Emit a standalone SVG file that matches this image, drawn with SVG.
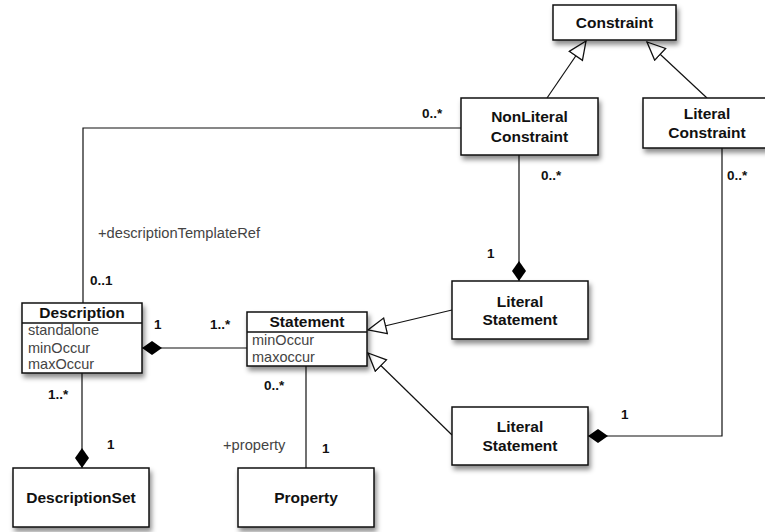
<svg xmlns="http://www.w3.org/2000/svg" width="765" height="532" viewBox="0 0 765 532">
<style>
.box{fill:#fff;stroke:#111;stroke-width:1.5;filter:url(#sh)}
.nm{font-family:"Liberation Sans",Arial,sans-serif;font-weight:bold;font-size:15.5px;fill:#111;text-anchor:middle}
.at{font-family:"Liberation Sans",Arial,sans-serif;font-size:14.5px;fill:#444}
.ml{font-family:"Liberation Sans",Arial,sans-serif;font-weight:bold;font-size:13.5px;fill:#111}
.rl{font-family:"Liberation Sans",Arial,sans-serif;font-size:14.7px;fill:#444}
.ln{fill:none;stroke:#111;stroke-width:1.2}
.sep{stroke:#111;stroke-width:1.3}
</style>
<defs>
<filter id="sh" x="-20%" y="-20%" width="150%" height="160%">
<feDropShadow dx="2" dy="4" stdDeviation="2.5" flood-color="#000" flood-opacity="0.45"/>
</filter>
<marker id="gen" markerUnits="userSpaceOnUse" markerWidth="22" markerHeight="20" refX="19" refY="9" orient="auto">
<path d="M1,1 L19,9 L1,17 Z" fill="#fff" stroke="#111" stroke-width="1.3"/>
</marker>
<marker id="dia" markerUnits="userSpaceOnUse" markerWidth="24" markerHeight="16" refX="21" refY="8" orient="auto">
<path d="M1,8 L11,1 L21,8 L11,15 Z" fill="#000"/>
</marker>
</defs>
<g id="connectors">
<path class="ln" d="M547,98 L586,41" marker-end="url(#gen)"/>
<path class="ln" d="M707,98 L647,42" marker-end="url(#gen)"/>
<path class="ln" d="M452,310 L368,330" marker-end="url(#gen)"/>
<path class="ln" d="M452,435 L368,353" marker-end="url(#gen)"/>
<path class="ln" d="M519,155 L519,281" marker-end="url(#dia)"/>
<path class="ln" d="M722,148 L722,436 L588,436" marker-end="url(#dia)"/>
<path class="ln" d="M83,303 L83,128 L461,128"/>
<path class="ln" d="M247,348 L142,348" marker-end="url(#dia)"/>
<path class="ln" d="M82,373 L82,468" marker-end="url(#dia)"/>
<path class="ln" d="M306,366 L306,468"/>
<text class="ml" x="422" y="118">0..*</text>
<text class="ml" x="541" y="180">0..*</text>
<text class="ml" x="727" y="180">0..*</text>
<text class="ml" x="487" y="258">1</text>
<text class="ml" x="621" y="419">1</text>
<text class="ml" x="90" y="285">0..1</text>
<text class="rl" x="98" y="238">+descriptionTemplateRef</text>
<text class="ml" x="154" y="329">1</text>
<text class="ml" x="210" y="329">1..*</text>
<text class="ml" x="48" y="399">1..*</text>
<text class="ml" x="107" y="449">1</text>
<text class="ml" x="264" y="390">0..*</text>
<text class="rl" x="223" y="450">+property</text>
<text class="ml" x="322" y="453">1</text>
</g>
<g id="constraint">
<rect class="box" x="553" y="5" width="123" height="35"/>
<text class="nm" x="614.5" y="28">Constraint</text>
</g>
<g id="nonliteral-constraint">
<rect class="box" x="461" y="98" width="137" height="57"/>
<text class="nm" x="529.5" y="122">NonLiteral</text>
<text class="nm" x="529.5" y="142">Constraint</text>
</g>
<g id="literal-constraint">
<rect class="box" x="643" y="98" width="128" height="50"/>
<text class="nm" x="707" y="119">Literal</text>
<text class="nm" x="707" y="138">Constraint</text>
</g>
<g id="literal-statement-1">
<rect class="box" x="452" y="281" width="136" height="58"/>
<text class="nm" x="520" y="307">Literal</text>
<text class="nm" x="520" y="325">Statement</text>
</g>
<g id="literal-statement-2">
<rect class="box" x="452" y="407" width="136" height="58"/>
<text class="nm" x="520" y="432">Literal</text>
<text class="nm" x="520" y="451">Statement</text>
</g>
<g id="description">
<rect class="box" x="22" y="303" width="120" height="70"/>
<line class="sep" x1="22" y1="323" x2="142" y2="323"/>
<text class="nm" x="82" y="318">Description</text>
<text class="at" x="28" y="335">standalone</text>
<text class="at" x="28" y="353">minOccur</text>
<text class="at" x="28" y="369">maxOccur</text>
</g>
<g id="statement">
<rect class="box" x="247" y="312" width="120" height="54"/>
<line class="sep" x1="247" y1="332" x2="367" y2="332"/>
<text class="nm" x="307" y="327">Statement</text>
<text class="at" x="252" y="345">minOccur</text>
<text class="at" x="252" y="362">maxoccur</text>
</g>
<g id="descriptionset">
<rect class="box" x="13" y="468" width="136" height="59"/>
<text class="nm" x="81" y="503">DescriptionSet</text>
</g>
<g id="property">
<rect class="box" x="238" y="468" width="136" height="59"/>
<text class="nm" x="306" y="503">Property</text>
</g>
</svg>
